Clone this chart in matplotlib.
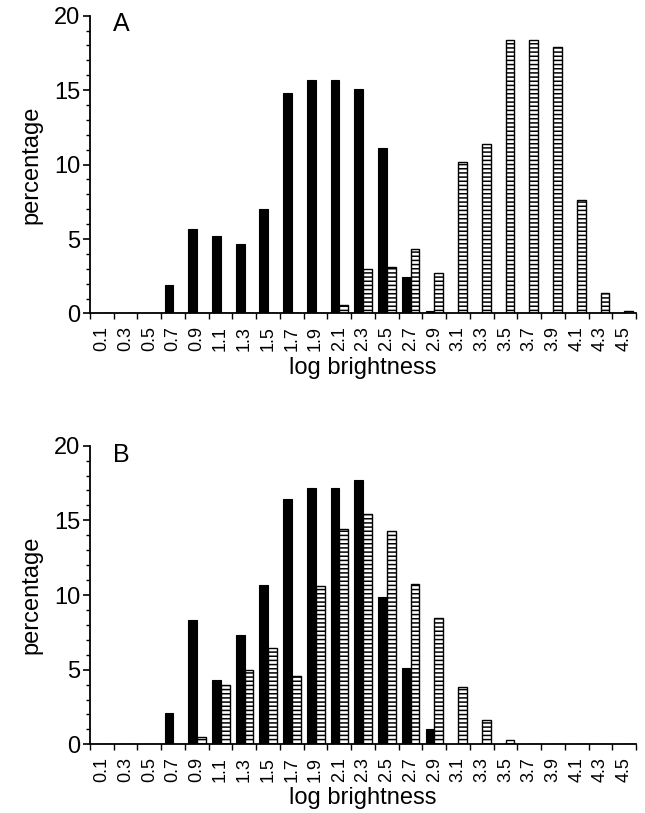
import matplotlib
matplotlib.use("Agg")
import matplotlib.pyplot as plt
import numpy as np

plt.rcParams['font.family'] = ['Liberation Sans', 'DejaVu Sans']
plt.rcParams['hatch.linewidth'] = 1.1

categories = ["0.1", "0.3", "0.5", "0.7", "0.9", "1.1", "1.3", "1.5", "1.7", "1.9", "2.1", "2.3",
              "2.5", "2.7", "2.9", "3.1", "3.3", "3.5", "3.7", "3.9", "4.1", "4.3", "4.5"]

a_solid = [0, 0, 0, 1.9, 5.7, 5.2, 4.7, 7.0, 14.8, 15.7, 15.7, 15.05,
           11.1, 2.45, 0.2, 0, 0, 0, 0, 0, 0, 0, 0]
a_hatched = [0, 0, 0, 0, 0, 0, 0, 0, 0, 0, 0.6, 3.0,
             3.15, 4.3, 2.75, 10.2, 11.4, 18.35, 18.35, 17.9, 7.65, 1.4, 0.15]

b_solid = [0, 0, 0, 2.1, 8.35, 4.3, 7.3, 10.7, 16.4, 17.15, 17.15, 17.7,
           9.85, 5.1, 1.05, 0, 0, 0, 0, 0, 0, 0, 0]
b_hatched = [0, 0, 0, 0, 0.5, 3.95, 5.0, 6.45, 4.6, 10.6, 14.4, 15.4,
             14.3, 10.75, 8.45, 3.85, 1.6, 0.3, 0, 0, 0, 0, 0]

panels = [("A", a_solid, a_hatched), ("B", b_solid, b_hatched)]

W, H = 645, 813
fig = plt.figure(figsize=(W / 100, H / 100), dpi=100)
fig.patch.set_facecolor('white')

left = 90 / W
right = 636 / W
boxes = [(313.5, 15.7), (744.3, 445.7)]

x = np.arange(len(categories))
bw = 0.37

for (letter, solid, hatched), (ybot, ytop) in zip(panels, boxes):
    ax = fig.add_axes([left, 1 - ybot / H, right - left, (ybot - ytop) / H])
    ax.bar(x - bw + 0.01, solid, width=bw, align='edge', color='black', edgecolor='black',
           linewidth=0.8)
    ax.bar(x + 0.01, hatched, width=bw, align='edge',
           color='white', edgecolor='black', linewidth=1.0, hatch='----')
    ax.set_xlim(-0.5, len(categories) - 0.5)
    ax.set_ylim(0, 20)
    ax.spines['top'].set_visible(False)
    ax.spines['right'].set_visible(False)
    ax.spines['left'].set_linewidth(1.3)
    ax.spines['bottom'].set_linewidth(1.3)

    ax.set_xticks(x)
    ax.set_xticklabels(categories, rotation=90, fontsize=13)
    ax.set_xticks(np.arange(-0.5, len(categories), 1.0), minor=True)
    ax.tick_params(axis='x', which='major', length=0, pad=9)
    ax.tick_params(axis='x', which='minor', length=4, width=1.0, direction='out')

    ax.set_yticks([0, 5, 10, 15, 20])
    ax.set_yticks(np.arange(0, 21, 1), minor=True)
    ax.tick_params(axis='y', which='major', length=5, width=1.2, direction='out',
                   labelsize=17, pad=2)
    ax.tick_params(axis='y', which='minor', length=3, width=1.0, direction='out')

    ax.set_xlabel("log brightness", fontsize=17, labelpad=4)
    ax.set_ylabel("percentage", fontsize=17, labelpad=8)
    ax.text(0.042, 0.947, letter, transform=ax.transAxes, fontsize=18,
            ha='left', va='baseline')

fig.savefig("out.png", dpi=100, facecolor='white')
